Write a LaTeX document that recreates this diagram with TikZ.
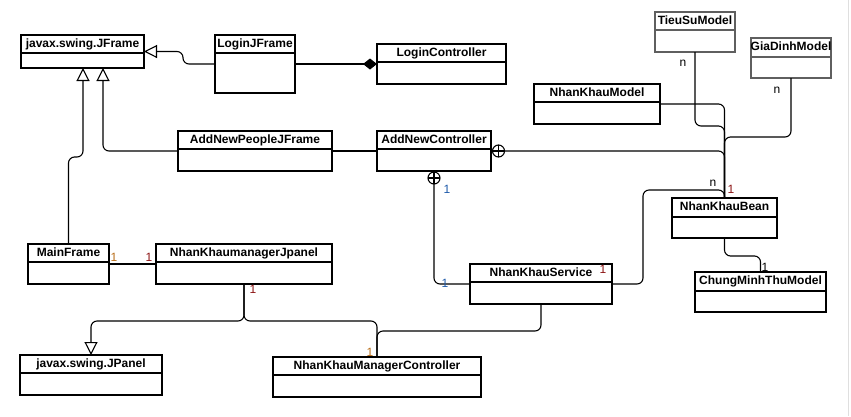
\documentclass[tikz,border=0pt]{standalone}
\usepackage{fontspec}
\setmainfont{Liberation Sans}
\usetikzlibrary{arrows.meta,calc}
\definecolor{mred}{RGB}{140,20,20}
\definecolor{morange}{RGB}{185,110,25}
\definecolor{mblue}{RGB}{30,90,170}
\definecolor{cgray}{RGB}{95,95,95}
\tikzset{
  clsbox/.style={draw, line width=1.3pt, rectangle, inner sep=0pt, outer sep=0pt, anchor=north west},
  clstitle/.style={font=\bfseries\fontsize{12}{14}\selectfont, inner sep=0pt, anchor=base},
  conn/.style={line width=1.1pt, rounded corners=6pt},
  gen/.style={conn, -{Triangle[open,length=13pt,width=13pt,line width=1.1pt]}},
  comp/.style={conn, -{Diamond[length=14pt,width=11pt]}},
  mult/.style={font=\fontsize{12}{14}\selectfont, inner sep=0pt},
  nest/.style={line width=1.1pt},
}
% #1 name, #2 x1, #3 y1, #4 x2, #5 y2, #6 ydiv, #7 text, #8 extra style
\newcommand{\umlclass}[8]{%
  \node[clsbox, minimum width={(#4-#2)*1pt}, minimum height={(#5-#3)*1pt}, #8] (#1) at (#2,#3) {};
  \draw[line width=1.3pt, #8] (#2,#6) -- (#4,#6);
  \node[clstitle] (#1-t) at ({(#2+#4)/2},{#3+12.7}) {#7};
}
\begin{document}
\begin{tikzpicture}[x=1pt,y=-1pt]
\useasboundingbox (0,0) rectangle (851,416);
\fill[white] (0,0) rectangle (851,416);
\draw[gray!25, line width=1pt] (848.5,0) -- (848.5,416);

% classes
\umlclass{jframe}{21}{35}{144}{68}{53}{javax.swing.JFrame}{}
\umlclass{loginf}{215}{35}{295}{93}{53}{LoginJFrame}{}
\umlclass{loginc}{377}{44}{506}{84}{62}{LoginController}{}
\umlclass{addp}{178}{131}{332}{171}{149}{AddNewPeopleJFrame}{}
\umlclass{addc}{377}{131}{491}{171}{149}{AddNewController}{}
\umlclass{tieusu}{655}{12}{735}{52}{30}{TieuSuModel}{draw=cgray, line width=1.6pt}
\umlclass{giadinh}{751}{38}{831}{78}{57}{GiaDinhModel}{draw=cgray, line width=1.6pt}
\umlclass{nkmodel}{534}{84}{660}{124}{102}{NhanKhauModel}{}
\umlclass{nkbean}{672}{198}{777}{238}{217}{NhanKhauBean}{}
\umlclass{chung}{695}{272}{826}{312}{291}{ChungMinhThuModel}{}
\umlclass{nksvc}{470}{264}{612}{304}{282}{NhanKhauService}{}
\umlclass{nkmc}{273}{357}{481}{397}{375}{NhanKhauManagerController}{}
\umlclass{mainf}{28}{244}{109}{284}{262}{MainFrame}{}
\umlclass{nkjp}{156}{244}{332}{284}{262}{NhanKhaumanagerJpanel}{}
\umlclass{jpanel}{20}{355}{162}{395}{373}{javax.swing.JPanel}{}

% generalizations
\draw[gen] (loginf.west) -- (183,64) -- (183,51.5) -- (jframe.east);
\draw[gen] (mainf.north) -- (68.5,157) -- (83,157) -- ($(jframe.south west)+(62,0)$);
\draw[gen] (addp.west) -- (103,151) -- ($(jframe.south west)+(82,0)$);
\draw[gen] (nkjp.south) -- (244,321) -- (91,321) -- (jpanel.north);

% composition
\draw[comp] (loginf.east) -- (loginc.west);

% associations
\draw[conn] (addp.east) -- (addc.west);
\draw[conn] (mainf.east) -- (nkjp.west);
\draw[conn] (nkjp.south) -- (244,321) -- (377,321) -- (nkmc.north);
\draw[conn] (nksvc.south) -- (541,331) -- (377,331) -- (nkmc.north);
\draw[conn] (nkmodel.east) -- (724.5,104) -- (nkbean.north);
\draw[conn] (tieusu.south) -- (695,126) -- (724.5,126) -- (nkbean.north);
\draw[conn] (giadinh.south) -- (791,137) -- (724.5,137) -- (nkbean.north);
\draw[conn] (addc.east) -- (724.5,151) -- (nkbean.north);
\draw[conn] (nksvc.east) -- (643,284) -- (643,190) -- (724.5,190) -- (nkbean.north);
\draw[conn] (nkbean.south) -- (724.5,256) -- (760.5,256) -- (chung.north);
\draw[conn] ($(addc.south west)+(57,0)$) -- (434,284) -- (nksvc.west);

% nesting circles
\draw[nest, fill=white] ($(addc.east)+(7.5,0)$) circle[radius=6pt];
\draw[nest] ($(addc.east)+(1.5,0)$) -- ($(addc.east)+(13.5,0)$);
\draw[nest] ($(addc.east)+(7.5,-6)$) -- ($(addc.east)+(7.5,6)$);
\draw[nest, fill=white] ($(addc.south west)+(57,7)$) circle[radius=6pt];
\draw[nest] ($(addc.south west)+(51,7)$) -- ($(addc.south west)+(63,7)$);
\draw[nest] ($(addc.south west)+(57,1)$) -- ($(addc.south west)+(57,13)$);

% multiplicities
\node[mult] (m1) at (683,63) {n};
\node[mult] (m2) at (777,90) {n};
\node[mult] (m3) at (713,183) {n};
\node[mult, text=mred] (m4) at (731,189) {1};
\node[mult, text=mred] (m5) at (603,269) {1};
\node[mult, text=mblue] (m6) at (447,189) {1};
\node[mult, text=mblue] (m7) at (445,283) {1};
\node[mult, text=morange] (m8) at (114,257) {1};
\node[mult, text=mred] (m9) at (149,257) {1};
\node[mult, text=mred] (m10) at (253,289) {1};
\node[mult, text=morange] (m11) at (370,352) {1};
\node[mult] (m12) at (765,267) {1};
\end{tikzpicture}
\end{document}
